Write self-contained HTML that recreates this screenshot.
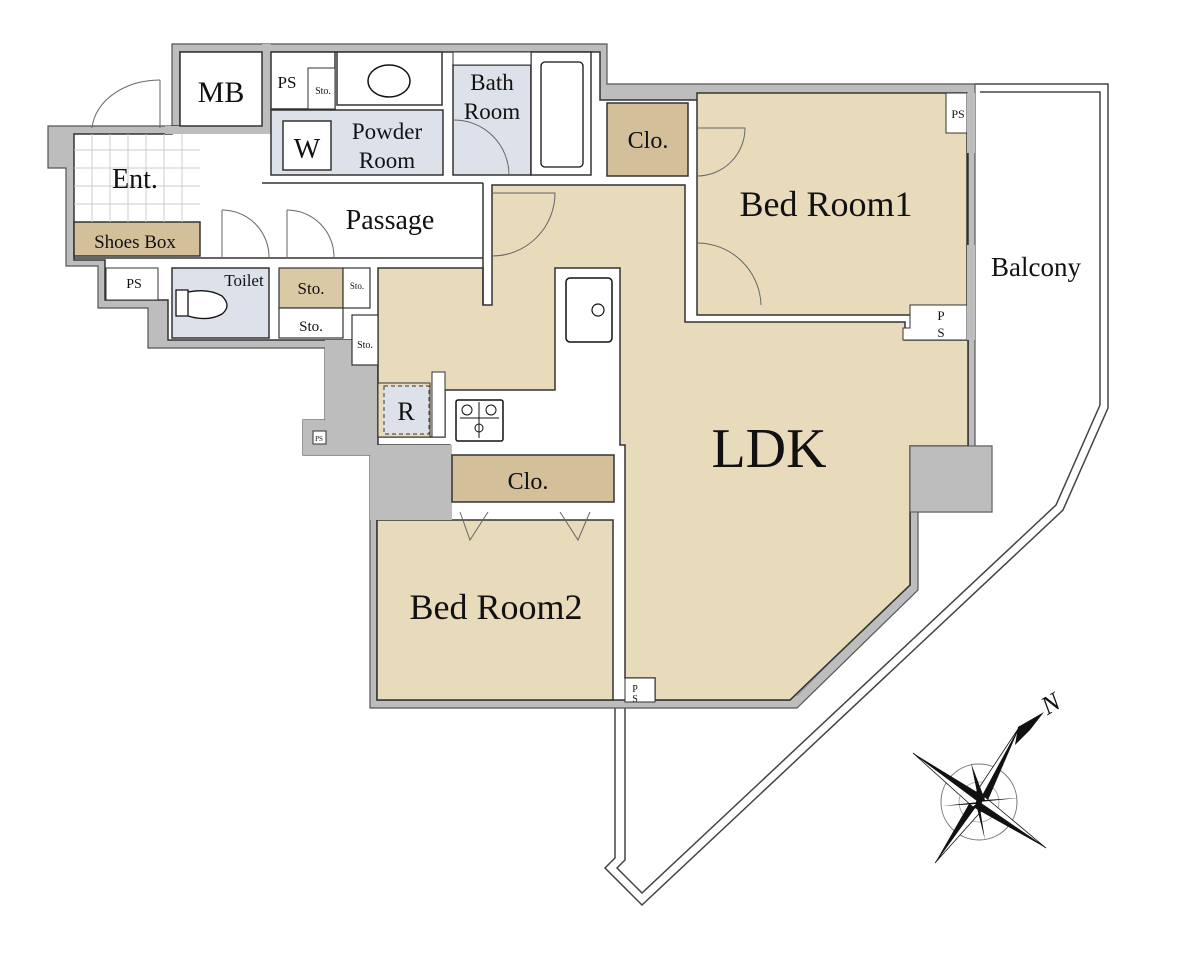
<!DOCTYPE html>
<html><head><meta charset="utf-8"><style>
html,body{margin:0;padding:0;background:#fff;}
svg{display:block;}
text{font-family:"Liberation Serif",serif;fill:#111;}
</style></head><body>
<svg width="1179" height="956" viewBox="0 0 1179 956" xmlns="http://www.w3.org/2000/svg">
<!-- balcony -->
<polyline points="975,84 1108,84 1108,408 1063,510 642,905 605,868 615,858 615,708" fill="none" stroke="#444" stroke-width="1.5"/>
<polyline points="980,92 1100,92 1100,405 1056,505 642,893 617,868 625,860 625,708" fill="none" stroke="#444" stroke-width="1.5"/>
<!-- outer gray -->
<polygon points="172,44 607,44 607,84 975,84 975,446 992,446 992,512 918,512 918,590 797,708 370,708 370,455 303,455 303,420 325,420 325,348 148,348 148,308 98,308 98,266 66,266 66,168 48,168 48,126 172,126" fill="#bdbdbd" stroke="#555" stroke-width="1.2"/>
<!-- inner white -->
<polygon points="180,52 600,52 600,100 968,100 968,446 910,446 910,585 790,700 377,700 377,520 450,520 450,445 378,445 378,340 168,340 168,300 105,300 105,260 74,260 74,134 172,134 172,126 180,126" fill="#fff" stroke="#333" stroke-width="1.5"/>
<!-- diagonal window -->
<line x1="893" y1="598" x2="797" y2="696" stroke="#999" stroke-width="1"/>
<!-- MB wall -->
<rect x="165" y="126" width="100" height="8" fill="#bdbdbd"/>
<rect x="262" y="44" width="9" height="90" fill="#bdbdbd"/>
<rect x="180" y="52" width="82" height="74" fill="#fff" stroke="#333" stroke-width="1.5"/>
<!-- LDK tan -->
<polygon points="492,185 685,185 685,322 905,322 905,340 968,340 968,446 910,446 910,585 790,700 655,700 655,678 625,678 625,445 620,445 620,268 555,268 555,390 445,390 445,437 378,437 378,268 483,268 483,305 492,305" fill="#e8dbbb" stroke="#333" stroke-width="1.5"/>
<!-- bed room1 -->
<rect x="697" y="93" width="270" height="222" fill="#e8dbbb" stroke="#333" stroke-width="1.5"/>
<polygon points="946,93 967,93 967,133 946,133" fill="#fff" stroke="#333" stroke-width="1"/>
<polygon points="910,305 967,305 967,340 903,340 903,328 910,328" fill="#fff" stroke="#333" stroke-width="1"/>
<rect x="967" y="93" width="8" height="60" fill="#bdbdbd"/>
<rect x="967" y="245" width="8" height="95" fill="#bdbdbd"/>
<!-- bed room2 -->
<rect x="377" y="520" width="236" height="180" fill="#e8dbbb" stroke="#333" stroke-width="1.5"/>
<rect x="625" y="678" width="30" height="24" fill="#fff" stroke="#333" stroke-width="1"/>
<!-- gray blocks -->
<rect x="370" y="445" width="82" height="75" fill="#bdbdbd"/>
<rect x="910" y="446" width="82" height="66" fill="#bdbdbd" stroke="#555" stroke-width="1"/>
<rect x="325" y="340" width="45" height="115" fill="#bdbdbd"/>
<rect x="303" y="420" width="30" height="35" fill="#bdbdbd"/>
<rect x="313" y="431" width="13" height="13" fill="#fff" stroke="#333" stroke-width="1"/>
<!-- closets -->
<rect x="607" y="103" width="81" height="73" fill="#d3bf9a" stroke="#333" stroke-width="1.5"/>
<rect x="452" y="455" width="162" height="47" fill="#d3bf9a" stroke="#333" stroke-width="1.5"/>
<rect x="74" y="222" width="126" height="34" fill="#d3bf9a" stroke="#333" stroke-width="1.5"/>
<!-- entry grid -->
<g stroke="#ccc" stroke-width="1">
<line x1="74" y1="150" x2="200" y2="150"/><line x1="74" y1="168" x2="200" y2="168"/><line x1="74" y1="186" x2="200" y2="186"/><line x1="74" y1="204" x2="200" y2="204"/>
<line x1="92" y1="134" x2="92" y2="222"/><line x1="110" y1="134" x2="110" y2="222"/><line x1="128" y1="134" x2="128" y2="222"/><line x1="146" y1="134" x2="146" y2="222"/><line x1="164" y1="134" x2="164" y2="222"/><line x1="182" y1="134" x2="182" y2="222"/>
</g>
<!-- passage partition -->
<line x1="262" y1="183" x2="483" y2="183" stroke="#333" stroke-width="1.5"/>
<line x1="483" y1="183" x2="483" y2="305" stroke="#333" stroke-width="1.5"/>
<line x1="200" y1="258" x2="483" y2="258" stroke="#333" stroke-width="1.5"/>
<line x1="74" y1="258" x2="200" y2="258" stroke="#333" stroke-width="1.5"/>
<!-- wet rooms -->
<rect x="271" y="52" width="64" height="57" fill="#fff" stroke="#333" stroke-width="1.5"/>
<rect x="308" y="68" width="27" height="41" fill="#fff" stroke="#333" stroke-width="1"/>
<rect x="337" y="52" width="105" height="53" fill="#fff" stroke="#333" stroke-width="1.5"/>
<ellipse cx="389" cy="81" rx="21" ry="16" fill="#fff" stroke="#111" stroke-width="1.5"/>
<rect x="271" y="110" width="172" height="65" fill="#dde1ea" stroke="#333" stroke-width="1.5"/>
<rect x="283" y="121" width="48" height="49" fill="#fff" stroke="#333" stroke-width="1.5"/>
<rect x="453" y="65" width="78" height="110" fill="#dde1ea" stroke="#333" stroke-width="1.5"/>
<rect x="531" y="52" width="60" height="123" fill="#fff" stroke="#333" stroke-width="1.5"/>
<rect x="541" y="62" width="42" height="105" rx="4" fill="#fff" stroke="#111" stroke-width="1.3"/>
<rect x="453" y="52" width="78" height="13" fill="#fff" stroke="#333" stroke-width="1"/>
<rect x="172" y="268" width="97" height="70" fill="#dde1ea" stroke="#333" stroke-width="1.5"/>
<rect x="106" y="268" width="52" height="32" fill="#fff" stroke="#333" stroke-width="1"/>
<path d="M176,290 h12 v26 h-12 z M188,292 q20,-4 34,4 q10,10 0,18 q-14,8 -34,2" fill="#fff" stroke="#111" stroke-width="1.3"/>
<rect x="279" y="268" width="64" height="40" fill="#d9c9a4" stroke="#333" stroke-width="1.2"/>
<rect x="279" y="308" width="64" height="30" fill="#fff" stroke="#333" stroke-width="1.2"/>
<rect x="343" y="268" width="27" height="40" fill="#fff" stroke="#333" stroke-width="1.2"/>
<rect x="352" y="315" width="26" height="50" fill="#fff" stroke="#333" stroke-width="1.2"/>
<!-- fridge -->
<rect x="378" y="383" width="52" height="54" fill="#e8dbbb" stroke="#333" stroke-width="1"/>
<rect x="384" y="386" width="45" height="48" fill="#dde1ea" stroke="#555" stroke-width="1.2" stroke-dasharray="4,3"/>
<rect x="432" y="372" width="13" height="65" fill="#fff" stroke="#333" stroke-width="1"/>
<!-- sink & stove -->
<rect x="566" y="278" width="46" height="64" rx="4" fill="#fff" stroke="#111" stroke-width="1.5"/>
<circle cx="598" cy="310" r="6" fill="#fff" stroke="#111" stroke-width="1.2"/>
<rect x="456" y="400" width="47" height="41" rx="2" fill="#fff" stroke="#111" stroke-width="1.5"/>
<circle cx="467" cy="410" r="5" fill="none" stroke="#111"/><circle cx="491" cy="410" r="5" fill="none" stroke="#111"/><circle cx="479" cy="428" r="4" fill="none" stroke="#111"/>
<line x1="460" y1="418" x2="499" y2="418" stroke="#111"/><line x1="479" y1="402" x2="479" y2="438" stroke="#111"/>
<!-- door arcs -->
<g fill="none" stroke="#666" stroke-width="1">
<path d="M160,80 A68,52 0 0 0 92,128"/><line x1="160" y1="80" x2="160" y2="128"/>
<path d="M222,210 A47,47 0 0 1 269,257"/><line x1="222" y1="210" x2="222" y2="258"/>
<path d="M287,210 A47,47 0 0 1 334,257"/><line x1="287" y1="210" x2="287" y2="258"/>
<path d="M492,193 L555,193 A63,63 0 0 1 492,256"/>
<path d="M453,120 A55,55 0 0 1 509,175"/>
<path d="M697,128 L745,128 A48,48 0 0 1 697,176"/>
<path d="M697,243 A64,64 0 0 1 761,305"/>
<path d="M460,512 L470,540 L488,512 M560,512 L578,540 L590,512"/>
</g>
<!-- compass -->
<g>
<circle cx="979" cy="802" r="38" fill="none" stroke="#777" stroke-width="1"/>
<circle cx="979" cy="802" r="20" fill="none" stroke="#999" stroke-width="0.8"/>
<polygon points="979,802 1020,726 985,807" fill="#111"/>
<polygon points="979,802 1020,726 973,797" fill="#fff" stroke="#111" stroke-width="0.8"/>
<polygon points="979,802 935,863 973,797" fill="#111"/>
<polygon points="979,802 935,863 985,807" fill="#fff" stroke="#111" stroke-width="0.8"/>
<polygon points="979,802 913,753 985,797" fill="#111"/>
<polygon points="979,802 913,753 973,807" fill="#fff" stroke="#111" stroke-width="0.8"/>
<polygon points="979,802 1046,848 973,807" fill="#111"/>
<polygon points="979,802 1046,848 985,797" fill="#fff" stroke="#111" stroke-width="0.8"/>
<polygon points="979,802 971,763 985,800 1018,798 979,802 985,840 976,804 942,806" fill="#111"/>
<polygon points="1018,727 1044,712 1030,730 1015,745" fill="#111"/>
<circle cx="979" cy="802" r="3" fill="#111"/>
<text x="1040" y="712" font-size="26" font-style="italic" transform="rotate(-30 1050 700)">N</text>
</g>
<!-- labels -->
<text x="221" y="102" font-size="30" text-anchor="middle">MB</text>
<text x="287" y="88" font-size="17" text-anchor="middle">PS</text>
<text x="323" y="94" font-size="10" text-anchor="middle">Sto.</text>
<text x="307" y="158" font-size="28" text-anchor="middle">W</text>
<text x="387" y="139" font-size="23" text-anchor="middle">Powder</text>
<text x="387" y="168" font-size="23" text-anchor="middle">Room</text>
<text x="492" y="90" font-size="23" text-anchor="middle">Bath</text>
<text x="492" y="119" font-size="23" text-anchor="middle">Room</text>
<text x="648" y="148" font-size="24" text-anchor="middle">Clo.</text>
<text x="958" y="118" font-size="12" text-anchor="middle">PS</text>
<text x="826" y="216" font-size="36" text-anchor="middle">Bed Room1</text>
<text x="1036" y="276" font-size="27" text-anchor="middle">Balcony</text>
<text x="135" y="188" font-size="28" text-anchor="middle">Ent.</text>
<text x="390" y="229" font-size="28" text-anchor="middle">Passage</text>
<text x="135" y="248" font-size="19" text-anchor="middle">Shoes Box</text>
<text x="134" y="288" font-size="14" text-anchor="middle">PS</text>
<text x="244" y="286" font-size="17" text-anchor="middle">Toilet</text>
<text x="311" y="294" font-size="17" text-anchor="middle">Sto.</text>
<text x="357" y="289" font-size="9" text-anchor="middle">Sto.</text>
<text x="311" y="331" font-size="15" text-anchor="middle">Sto.</text>
<text x="365" y="348" font-size="10" text-anchor="middle">Sto.</text>
<text x="406" y="420" font-size="26" text-anchor="middle">R</text>
<text x="941" y="320" font-size="13" text-anchor="middle">P</text>
<text x="941" y="337" font-size="13" text-anchor="middle">S</text>
<text x="319" y="441" font-size="7" text-anchor="middle">PS</text>
<text x="769" y="467" font-size="56" text-anchor="middle">LDK</text>
<text x="528" y="489" font-size="24" text-anchor="middle">Clo.</text>
<text x="496" y="619" font-size="36" text-anchor="middle">Bed Room2</text>
<text x="635" y="692" font-size="10" text-anchor="middle">P</text>
<text x="635" y="702" font-size="10" text-anchor="middle">S</text>
</svg>
</body></html>
